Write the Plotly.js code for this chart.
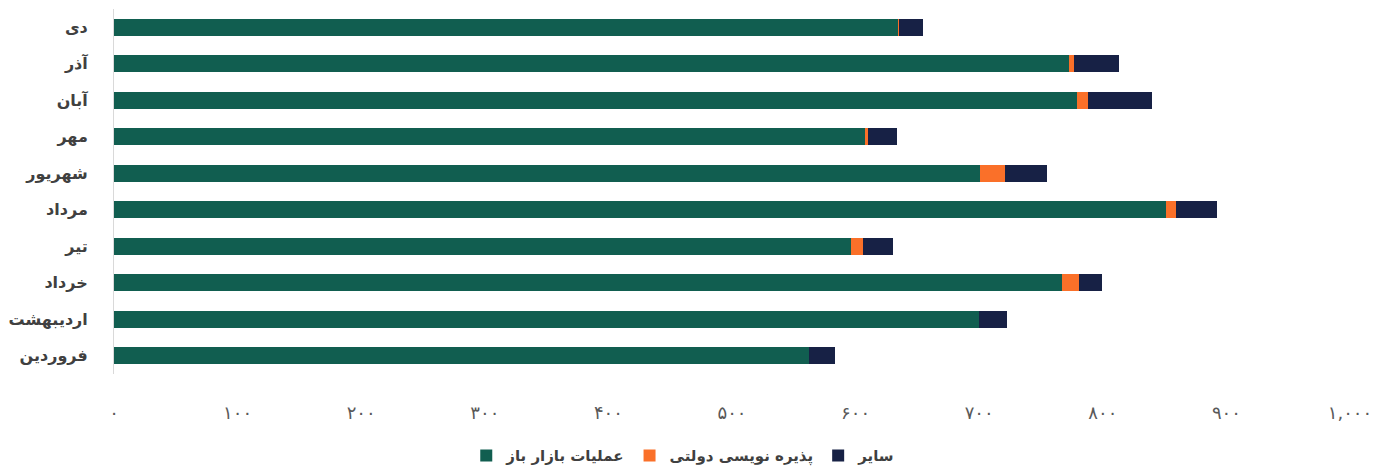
<!DOCTYPE html>
<html>
<head>
<meta charset="utf-8">
<script src="https://cdn.plot.ly/plotly-3.0.1.min.js"></script>
<style>html,body{margin:0;padding:0;background:#fff;}#chart{width:1379px;height:467px;}</style>
</head>
<body>
<div id="chart"></div>
<script>
// Categories, bottom to top
const months = ["فروردین","اردیبهشت","خرداد","تیر","مرداد","شهریور","مهر","آبان","آذر","دی"];
const openMarket = [562.5, 700.2, 767.2, 595.9, 851.5, 700.9, 607.2, 779.5, 773.0, 634.0];
const govBonds   = [0, 0, 13.3, 9.9, 7.6, 20.1, 3.0, 8.9, 4.0, 1.2];
const other      = [21.1, 21.9, 18.6, 24.5, 33.3, 34.0, 23.4, 51.1, 35.7, 19.0];
const seriesNames = ["عملیات بازار باز", "پذیره نویسی دولتی", "سایر"];
const tickValues = [0,100,200,300,400,500,600,700,800,900,1000];
const tickLabels = ["۰","۱۰۰","۲۰۰","۳۰۰","۴۰۰","۵۰۰","۶۰۰","۷۰۰","۸۰۰","۹۰۰","۱,۰۰۰"];

const colors = ["#115E50", "#FA7029", "#172145"];
const seriesData = [openMarket, govBonds, other];

const traces = seriesData.map((vals, i) => ({
  type: "bar",
  orientation: "h",
  y: months,
  x: vals,
  name: seriesNames[i],
  marker: {color: colors[i], line: {width: 0}},
  hoverinfo: "x+name"
}));

const layout = {
  width: 1379, height: 467,
  margin: {l: 114, r: 29, t: 9, b: 93, autoexpand: false},
  barmode: "stack",
  bargap: 0.53,
  paper_bgcolor: "#ffffff",
  plot_bgcolor: "#ffffff",
  font: {family: "DejaVu Sans, sans-serif"},
  showlegend: true,
  legend: {
    orientation: "h",
    x: 0.285, xanchor: "left",
    yref: "container",
    y: 0.024, yanchor: "middle",
    traceorder: "normal",
    font: {family: "DejaVu Sans, sans-serif", size: 15, color: "#404040", weight: "bold"},
    itemwidth: 30
  },
  xaxis: {
    range: [0, 1000],
    tickvals: tickValues,
    ticktext: tickLabels,
    showgrid: false,
    zeroline: false,
    showline: false,
    ticks: "",
    automargin: false,
    ticklabelstandoff: 26,
    tickfont: {family: "DejaVu Sans, sans-serif", size: 18, color: "#595959"}
  },
  yaxis: {
    categoryorder: "array",
    categoryarray: months,
    showgrid: false,
    zeroline: false,
    showline: true,
    linecolor: "#d9d9d9",
    linewidth: 1,
    ticks: "",
    automargin: false,
    ticklabelstandoff: 22,
    tickfont: {family: "DejaVu Sans, sans-serif", size: 16, color: "#404040", weight: "bold"}
  }
};

Plotly.newPlot("chart", traces, layout, {displayModeBar: false, staticPlot: true});
</script>
</body>
</html>
